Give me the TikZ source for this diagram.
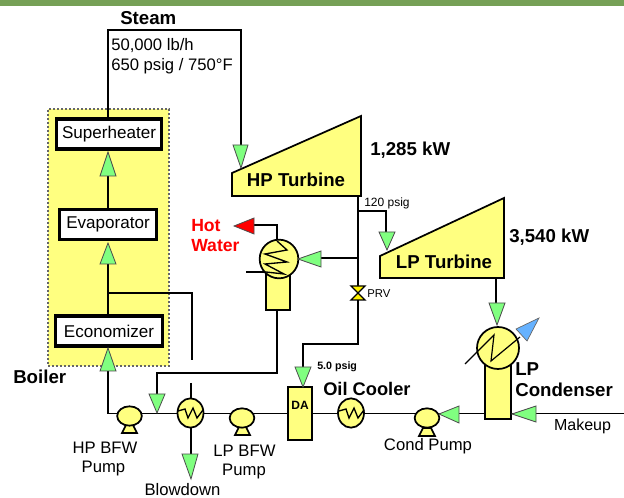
\documentclass[tikz,border=0pt]{standalone}
\usepackage{fontspec}
\setmainfont{Liberation Sans}
\usetikzlibrary{shapes.geometric}
\definecolor{paleyellow}{HTML}{FFFF80}
\definecolor{palegreen}{HTML}{80FF80}
\definecolor{barcolor}{HTML}{76A056}
\definecolor{skyblue}{HTML}{66B2FF}
\newcommand{\pxfont}[1]{\fontsize{#1}{#1}\selectfont}
\tikzset{
  x=0.75pt,y=-0.75pt,
  pipe/.style={draw=black,line width=1.25pt,line join=miter},
  unit/.style={draw=black,fill=white,line width=2.4pt,inner sep=0pt,font=\pxfont{12.8},text=black},
  vessel/.style={draw=black,fill=paleyellow,line width=1.3pt,line join=miter},
  hx/.style={ellipse,draw=black,fill=paleyellow,line width=1.3pt,inner sep=0pt,minimum width=19.5pt,minimum height=22pt},
  pumpbody/.style={ellipse,draw=black,fill=paleyellow,line width=1.3pt,inner sep=0pt,minimum width=18.5pt,minimum height=14.5pt},
  coil/.style={draw=black,line width=1pt,line join=miter},
  flowtip/.style={draw=black!70,fill=palegreen,line width=0.6pt,line join=miter},
  lbl/.style={inner sep=0pt,font=\pxfont{12.5},text=black,align=center},
  big/.style={inner sep=0pt,font=\bfseries\pxfont{14},text=black,align=left},
}
\begin{document}
\begin{tikzpicture}
\useasboundingbox (0,0) rectangle (624,498);
\fill[white] (0,0) rectangle (624,498);
\fill[barcolor] (0,0) rectangle (624,6);
% boiler zone
\node[draw=black!60,fill=paleyellow,dashed,dash pattern=on 1.5pt off 1.5pt,line width=0.8pt,minimum width=90.75pt,minimum height=192.75pt,inner sep=0pt] (zone) at (108.5,237.5) {};
% units
\node[unit,minimum width=79pt,minimum height=22.5pt] (super) at (109,134) {Superheater};
\node[unit,minimum width=73pt,minimum height=23pt] (evap) at (108,224.5) {Evaporator};
\node[unit,minimum width=80pt,minimum height=22.5pt] (econ) at (109,331) {Economizer};
% named pipe points
\coordinate (steamL) at (108,30);
\coordinate (steamR) at (241,30);
\coordinate (hpin) at (241,146);
\coordinate (evapbr) at (108,293);
\coordinate (brR) at (192,293);
\coordinate (brEnd) at (192,360);
\coordinate (hxtop) at (191,383);
\coordinate (main0) at (108,413.5);
\coordinate (mainEnd) at (624,413.5);
\coordinate (hpExit) at (358,196);
\coordinate (prvdown) at (358,344);
\coordinate (daTurn) at (303,344);
\coordinate (daIn) at (303,368);
\coordinate (lpTurn) at (386,211);
\coordinate (lpIn) at (386,233);
\coordinate (tee120) at (358,211);
\coordinate (teeHW) at (358,258);
\coordinate (hwIn) at (320,258);
\coordinate (hwOut) at (277,225);
\coordinate (hwTop) at (277,241);
\coordinate (hwRed) at (253,225);
\coordinate (tankBot) at (277,310);
\coordinate (tankTurn) at (277,373);
\coordinate (bfwTurn) at (157,373);
\coordinate (bfwIn) at (157,395);
\coordinate (bdIn) at (191,455);
\coordinate (lpOut) at (496,278);
\coordinate (condIn) at (496,304);
% pipes
\draw[pipe] (super.north -| steamL) -- (steamL) -- (steamR) -- (hpin);
\draw[pipe] (evap.north -| steamL) -- (108,176);
\draw[pipe] (econ.north -| evapbr) -- (108,264);
\draw[pipe,line width=1.1pt] (evapbr) -- (brR) -- (brEnd);
\draw[pipe] (108,371) -- (main0) -- (mainEnd);
\draw[pipe] (hxtop) -- (191,400);
\draw[pipe] (191,425) -- (bdIn);
\draw[pipe] (hpExit) -- (prvdown) -- (daTurn) -- (daIn);
\draw[pipe,line width=1pt] (tee120) -- (lpTurn) -- (lpIn);
\draw[pipe,line width=1pt] (teeHW) -- (hwIn);
\draw[pipe,line width=1pt] (hwRed) -- (hwOut) -- (hwTop);
\draw[pipe] (tankBot) -- (tankTurn) -- (bfwTurn) -- (bfwIn);
\draw[pipe] (lpOut) -- (condIn);
% turbines
\draw[vessel] (232,196) -- (232,173) -- (361,116) -- (361,196) -- cycle;
\draw[vessel] (380,278) -- (380,256) -- (504,198) -- (504,278) -- cycle;
\node[inner sep=0pt,font=\bfseries\pxfont{14},text=black] (hpt) at (296,180) {HP Turbine};
\node[inner sep=0pt,font=\bfseries\pxfont{14},text=black] (lpt) at (444,262) {LP Turbine};
% hot water heater
\draw[vessel] (266,262) rectangle (290,310);
\draw[pipe,line width=1pt] (246,272) -- (266,272);
\node[hx,minimum width=29pt,minimum height=29pt] (hwhx) at (279,259) {};
\draw[coil] (246,272) -- (266,272) -- (284,274) -- (265,264) -- (287,262) -- (265,254) -- (287,250) -- (277,241);
% condenser
\draw[vessel] (485,355) rectangle (511,419);
\node[hx,circle,minimum width=31.5pt,minimum height=31.5pt] (condhx) at (498,348) {};
\draw[coil,line width=0.9pt] (465,364) -- (494,335) -- (491,361) -- (520,337);
\fill[skyblue,draw=black!60,line width=0.5pt] (539,318) -- (516,329) -- (527,341) -- cycle;
% DA
\draw[vessel] (288,387) rectangle (312,440);
\node[inner sep=0pt,font=\bfseries\pxfont{9},text=black] (da) at (300,405) {DA};
% small exchangers
\node[hx] (bfwhx) at (190.5,413) {};
\draw[coil] (178,411) -- (185,409) -- (188,418) -- (193,408) -- (197,418) -- (203,410);
\node[hx] (oilhx) at (351,413) {};
\draw[coil] (339,411) -- (346,409) -- (349,418) -- (354,408) -- (358,418) -- (364,410);
% pumps
\draw[vessel] (122,433) -- (126,425) -- (133,425) -- (137,433) -- cycle;
\node[pumpbody] (hppump) at (129.5,416) {};
\draw[vessel] (235,435) -- (239,427) -- (246,427) -- (250,435) -- cycle;
\node[pumpbody] (lppump) at (242,418) {};
\draw[vessel] (419,436) -- (423,428) -- (431,428) -- (435,436) -- cycle;
\node[pumpbody] (condpump) at (427,418) {};
% PRV
\draw[coil,fill=yellow] (351,286) -- (365,286) -- (358,293) -- cycle;
\draw[coil,fill=yellow] (351,300) -- (365,300) -- (358,293) -- cycle;
% flow triangles
\draw[flowtip] (233,145) -- (248,145) -- (241,168) -- cycle;
\draw[flowtip] (100,176) -- (116,176) -- (108,152) -- cycle;
\draw[flowtip] (100,264) -- (116,264) -- (108,243) -- cycle;
\draw[flowtip] (100,371) -- (116,371) -- (108,348) -- cycle;
\draw[flowtip] (149,394) -- (165,394) -- (157,413) -- cycle;
\draw[flowtip] (182,454) -- (198,454) -- (191,479) -- cycle;
\draw[flowtip] (295,367) -- (311,367) -- (303,387) -- cycle;
\draw[flowtip] (379,232) -- (395,232) -- (387,250) -- cycle;
\draw[flowtip] (321,251) -- (321,267) -- (298,259) -- cycle;
\draw[flowtip] (489,303) -- (505,303) -- (497,325) -- cycle;
\draw[flowtip] (459,406) -- (459,423) -- (439,414) -- cycle;
\draw[flowtip] (536,406) -- (536,422) -- (512,414) -- cycle;
\draw[draw=black!70,fill=red,line width=0.6pt] (254,218) -- (254,234) -- (234,226) -- cycle;
% texts
\node[big,anchor=west] (steam) at (120,18) {Steam};
\node[lbl,align=left,anchor=west,font=\pxfont{12.5}] (flow) at (111,46) {50,000 lb/h};
\node[lbl,align=left,anchor=west,font=\pxfont{12.5}] (cond) at (111,66) {650 psig / 750°F};
\node[big,anchor=west] (hpkw) at (370,150) {1,285 kW};
\node[big,anchor=west] (lpkw) at (509,237) {3,540 kW};
\node[lbl,anchor=west,font=\pxfont{9}] (p120) at (364,203) {120 psig};
\node[lbl,anchor=west,font=\pxfont{8.5}] (prv) at (367,294) {PRV};
\node[lbl,anchor=west,font=\bfseries\pxfont{8}] (p5) at (317,367) {5.0 psig};
\node[inner sep=0pt,anchor=west,font=\bfseries\pxfont{13.2},text=red] (hot) at (191,226) {Hot};
\node[inner sep=0pt,anchor=west,font=\bfseries\pxfont{13.2},text=red] (water) at (191,246) {Water};
\node[big,anchor=west] (boiler) at (13,377) {Boiler};
\node[big,anchor=west] (lpl) at (515,369) {LP};
\node[big,anchor=west] (condl) at (515,390) {Condenser};
\node[big,anchor=west,font=\bfseries\pxfont{13.7}] (oil) at (323,389) {Oil Cooler};
\node[lbl] (hpb) at (105,448) {HP BFW};
\node[lbl] (hpb2) at (103.5,468) {Pump};
\node[lbl] (lpb) at (244.5,451) {LP BFW};
\node[lbl] (lpb2) at (244,471) {Pump};
\node[lbl] (bd) at (182.5,490) {Blowdown};
\node[lbl] (cp) at (428,446) {Cond Pump};
\node[lbl,font=\pxfont{12}] (mk) at (582.5,426) {Makeup};
\end{tikzpicture}
\end{document}
